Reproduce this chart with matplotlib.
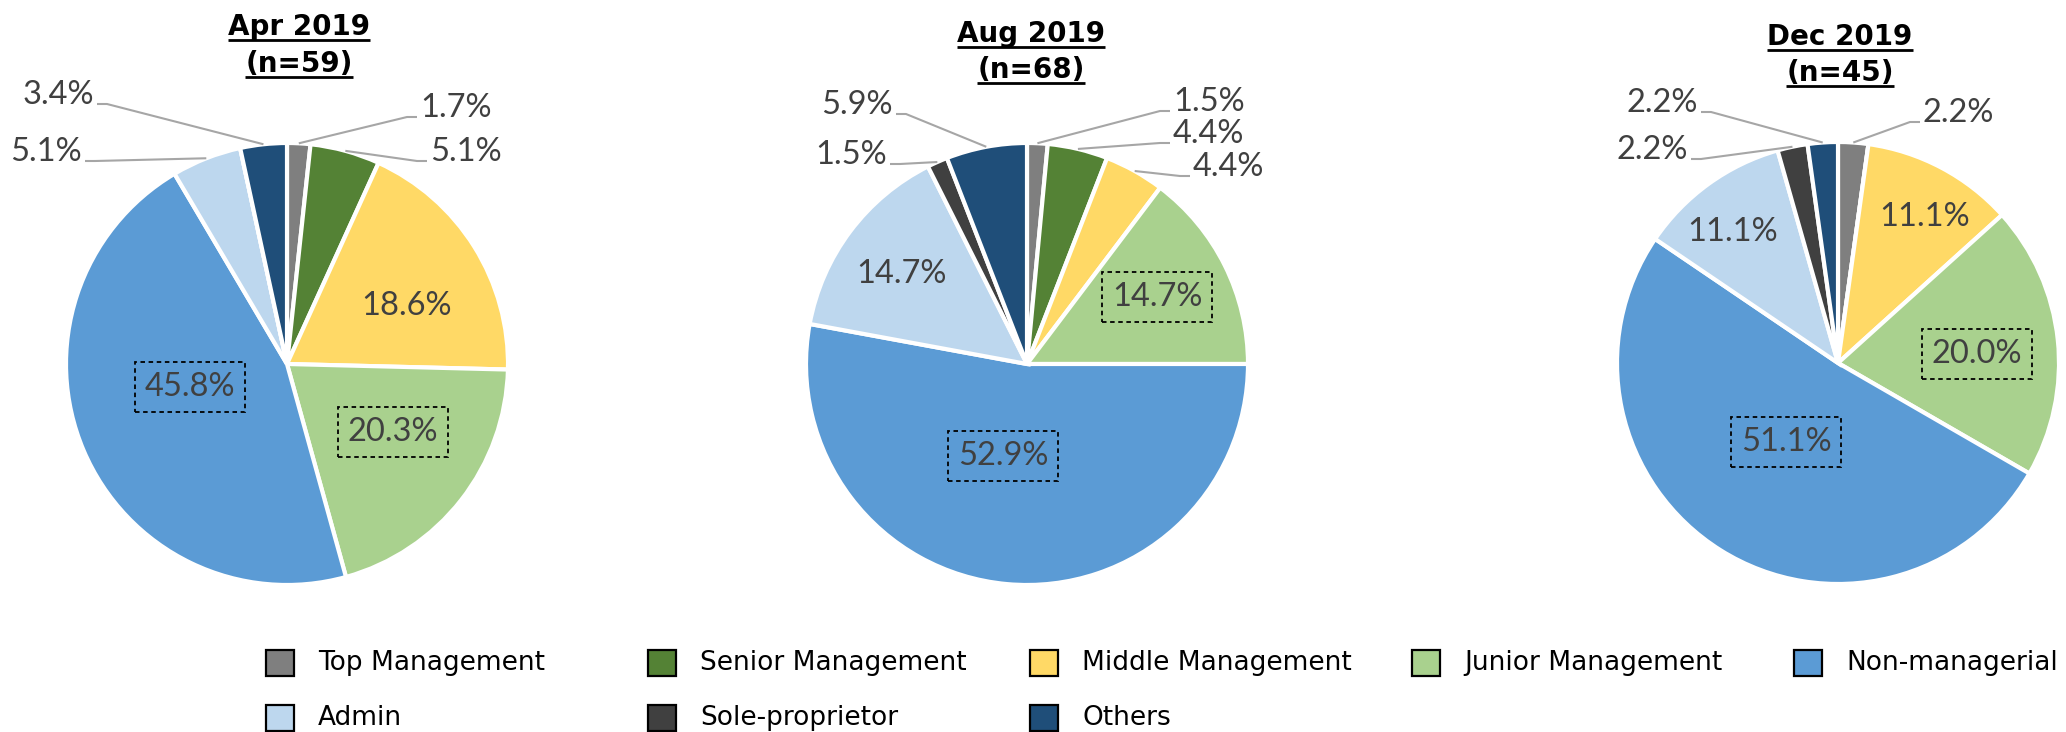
import numpy as np
import matplotlib.pyplot as plt

# Kategorien und Farben (Reihenfolge im Uhrzeigersinn ab 12 Uhr)
categories = ['Top Management', 'Senior Management', 'Middle Management',
              'Junior Management', 'Non-managerial', 'Admin',
              'Sole-proprietor', 'Others']
colors = ['#7F7F7F', '#548235', '#FFD966', '#A9D18E',
          '#5B9BD5', '#BDD7EE', '#404040', '#1F4E79']

# Anteile in Prozent je Erhebung
apr_2019 = [1.7, 5.1, 18.6, 20.3, 45.8, 5.1, 0.0, 3.4]
aug_2019 = [1.5, 4.4, 4.4, 14.7, 52.9, 14.7, 1.5, 5.9]
dec_2019 = [2.2, 0.0, 11.1, 20.0, 51.1, 11.1, 2.2, 2.2]

periods = ['Apr 2019', 'Aug 2019', 'Dec 2019']
sample_sizes = ['(n=59)', '(n=68)', '(n=45)']
series = [apr_2019, aug_2019, dec_2019]

# Layout in Bildpixeln (y von oben gemessen)
W, H = 2066, 732
R = 221
centers = [(287, 364), (1027, 364), (1838, 363)]
title_x = [299, 1031, 1840]
title_base = [(35, 72), (42, 78), (45, 81)]

# Beschriftungen: (Art, x, y); 'R' = rechts vom Kreis, 'L' = links, 'in' = innen, 'box' = gestrichelter Rahmen
label_layout = [
    [('R', 420, 108), ('R', 430, 152), ('in', 407, 306), ('box', 393, 432),
     ('box', 190, 387), ('L', 82, 152), None, ('L', 94, 95)],
    [('R', 1173, 102), ('R', 1173, 134), ('R', 1193, 167), ('box', 1157, 297),
     ('box', 1003, 456), ('in', 901, 274), ('L', 887, 155), ('L', 893, 105)],
    [('R', 1923, 113), None, ('in', 1925, 217), ('box', 1977, 354),
     ('box', 1786, 442), ('in', 1733, 232), ('L', 1688, 150), ('L', 1698, 103)],
]

label_font = dict(family=['Lato', 'DejaVu Sans'], fontweight='normal', fontsize=23.5, color='#404040')

fig = plt.figure(figsize=(W / 100, H / 100), dpi=100)
ax = fig.add_axes([0, 0, 1, 1])

titles = []
for p, vals in enumerate(series):
    cx, cy = centers[p]
    wedges, _ = ax.pie(vals, colors=colors, startangle=90, counterclock=False,
                       center=(cx, H - cy), radius=R,
                       wedgeprops=dict(edgecolor='white', linewidth=3))

    for i, w in enumerate(wedges):
        spec = label_layout[p][i]
        if spec is None or vals[i] == 0:
            continue
        kind, x, y = spec
        txt = f'{vals[i]:.1f}%'
        if kind == 'in':
            ax.text(x, H - y, txt, ha='center', va='center', **label_font)
        elif kind == 'box':
            ax.text(x, H - y, txt, ha='center', va='center', **label_font,
                    bbox=dict(boxstyle='square,pad=0.3', fc='none', ec='black',
                              ls=(0, (2.5, 2)), lw=1.3))
        else:
            # Fuehrungslinie vom Rand des Segments zum Text
            ang = np.deg2rad((w.theta1 + w.theta2) / 2)
            sx, sy = cx + R * np.cos(ang), (H - cy) + R * np.sin(ang)
            ly = H - (y + 9)
            if kind == 'R':
                ex, bx, ha = x - 3, x - 13, 'left'
            else:
                ex, bx, ha = x + 3, x + 13, 'right'
            ax.plot([sx, bx, ex], [sy, ly, ly], color='#A6A6A6', lw=1.5,
                    solid_capstyle='butt', zorder=1)
            ax.text(x, H - y, txt, ha=ha, va='center', **label_font)

    b1, b2 = title_base[p]
    for line, b in [(periods[p], b1), (sample_sizes[p], b2)]:
        t = ax.text(title_x[p], H - b, line, ha='center', va='baseline',
                    fontsize=20, fontweight='bold', family='DejaVu Sans', color='black')
        titles.append((t, b))

# Legende: 5 Spalten, zeilenweise gefuellt
col_x = [266 + 382 * c for c in range(5)]
row_y = [663, 718]
for i, (cat, col) in enumerate(zip(categories, colors)):
    r, c = divmod(i, 5)
    x0, yc = col_x[c], row_y[r]
    ax.add_patch(plt.Rectangle((x0, H - yc - 13), 28, 26, facecolor=col,
                               edgecolor='black', lw=1.6))
    ax.text(x0 + 52, H - yc, cat, ha='left', va='center', fontsize=19,
            family='DejaVu Sans', color='black')

ax.set_xlim(0, W)
ax.set_ylim(0, H)
ax.axis('off')

# Unterstreichung der Titel
fig.canvas.draw()
renderer = fig.canvas.get_renderer()
for t, b in titles:
    bb = t.get_window_extent(renderer)
    ax.plot([bb.x0, bb.x1], [H - b - 5, H - b - 5], color='black', lw=2,
            solid_capstyle='butt')

fig.savefig('out.png', dpi=100)
